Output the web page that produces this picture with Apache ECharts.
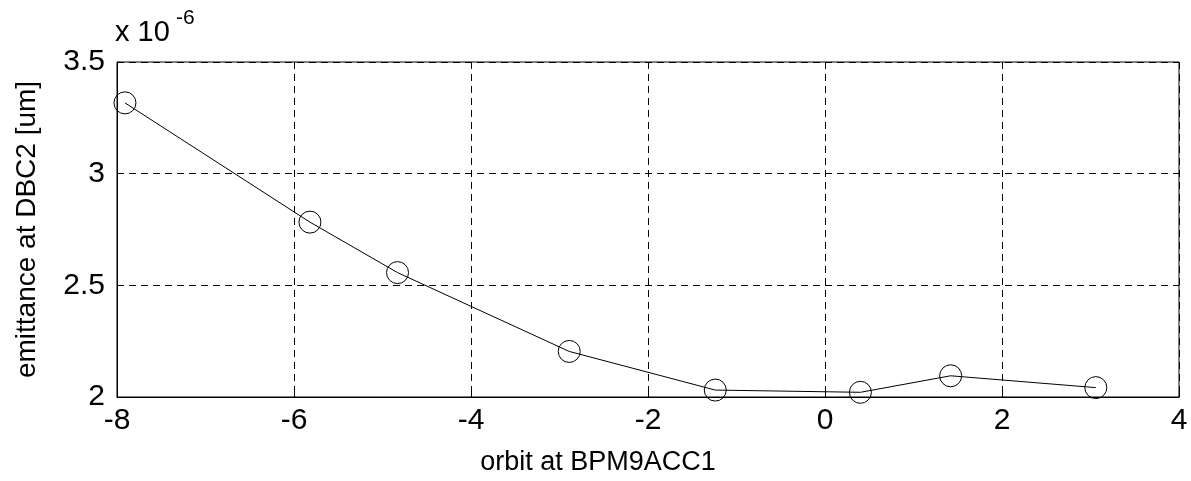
<!DOCTYPE html>
<html>
<head>
<meta charset="utf-8">
<script src="https://cdn.jsdelivr.net/npm/echarts@6/dist/echarts.min.js"></script>
<style>html,body{margin:0;padding:0;background:#fff;}#c{width:1191px;height:481px;}</style>
</head>
<body>
<div id="c"></div>
<script>
// orbit at BPM9ACC1
var orbitX = [-7.91, -5.82, -4.83, -2.89, -1.24, 0.40, 1.42, 3.06];
// emittance at DBC2 [um], in units of 1e-6
var emittance = [3.317, 2.783, 2.557, 2.204, 2.031, 2.021, 2.095, 2.042];
var xTicks = {min: -8, max: 4, interval: 2};
var yTicks = {min: 2, max: 3.5, interval: 0.5};
var xLabel = 'orbit at BPM9ACC1';
var yLabel = 'emittance at DBC2 [um]';
var multBase = 'x 10';
var multExp = '-6';

var font = 'Liberation Sans, Arial, Helvetica, sans-serif';
var chart = echarts.init(document.getElementById('c'));
var pts = orbitX.map(function (x, i) { return [x, emittance[i]]; });
chart.setOption({
  animation: false,
  backgroundColor: '#fff',
  grid: {left: 117, right: 12, top: 62, bottom: 83, show: true, borderColor: '#000', borderWidth: 1, backgroundColor: 'transparent'},
  xAxis: {
    type: 'value', min: xTicks.min, max: xTicks.max, interval: xTicks.interval,
    name: xLabel, nameLocation: 'middle', nameGap: 52,
    nameTextStyle: {fontFamily: font, fontSize: 27, color: '#000', padding: [0, 100, 0, 0]},
    axisLine: {show: true, onZero: false, lineStyle: {color: '#000', width: 1}},
    axisTick: {show: true, inside: true, length: 6, lineStyle: {color: '#000'}},
    axisLabel: {fontFamily: font, fontSize: 30, color: '#000', margin: 9},
    splitLine: {show: true, lineStyle: {color: '#000', width: 1, type: [7, 5]}}
  },
  yAxis: {
    type: 'value', min: yTicks.min, max: yTicks.max, interval: yTicks.interval,
    name: yLabel, nameLocation: 'middle', nameGap: 76,
    nameTextStyle: {fontFamily: font, fontSize: 28, color: '#000'},
    axisLine: {show: true, onZero: false, lineStyle: {color: '#000', width: 1}},
    axisTick: {show: true, inside: true, length: 6, lineStyle: {color: '#000'}},
    axisLabel: {fontFamily: font, fontSize: 30, color: '#000', margin: 12},
    splitLine: {show: true, lineStyle: {color: '#000', width: 1, type: [7, 5]}}
  },
  graphic: [{
    type: 'text', x: 115, y: 33, silent: true,
    style: {text: multBase, fontFamily: font, fontSize: 29, fill: '#000', align: 'left', verticalAlign: 'middle'}
  }, {
    type: 'text', x: 176, y: 18, silent: true,
    style: {text: multExp, fontFamily: font, fontSize: 21, fill: '#000', align: 'left', verticalAlign: 'middle'}
  }],
  series: [{
    type: 'line', data: pts, showSymbol: true, symbol: 'circle', symbolSize: 22,
    lineStyle: {color: '#000', width: 1},
    itemStyle: {color: 'transparent', borderColor: '#000', borderWidth: 1},
    z: 3
  }]
});
</script>
</body>
</html>
